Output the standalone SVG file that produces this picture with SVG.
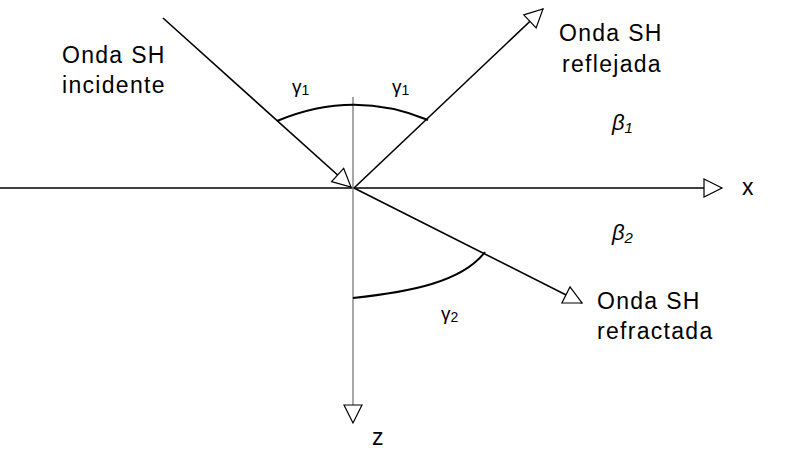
<svg xmlns="http://www.w3.org/2000/svg" width="786" height="454" viewBox="0 0 786 454">
<style>
.ray{stroke:#000;stroke-width:1.6;fill:none}
.axis{stroke:#000;stroke-width:1.4;fill:none}
.zaxis{stroke:#808080;stroke-width:1.4;fill:none}
.arc{stroke:#000;stroke-width:2;fill:none}
.lbl{font-family:"Liberation Sans",Arial,sans-serif;font-size:23px;fill:#000;letter-spacing:1.3px}
.gam{font-family:"Liberation Sans",Arial,sans-serif;font-size:19px;fill:#000}
.beta{font-family:"Liberation Sans",Arial,sans-serif;font-style:italic;font-size:22px;fill:#000}
</style>
<defs>
<marker id="open" markerUnits="userSpaceOnUse" markerWidth="20" markerHeight="20" refX="18" refY="9" orient="auto" overflow="visible">
<path d="M0,0 L18,9 L0,18 Z" fill="#fff" stroke="#000" stroke-width="1.2"/>
</marker>
</defs>
<g id="connectors">
<line class="axis" x1="0" y1="188" x2="722" y2="188" marker-end="url(#open)"/>
<line class="zaxis" x1="353" y1="97" x2="353" y2="423" marker-end="url(#open)"/>
<line id="incident" class="ray" x1="163" y1="18" x2="351" y2="187" marker-end="url(#open)"/>
<line id="reflected" class="ray" x1="354" y1="188" x2="543" y2="9" marker-end="url(#open)"/>
<line id="refracted" class="ray" x1="354" y1="188" x2="582" y2="303" marker-end="url(#open)"/>
<path id="arc1" class="arc" d="M277,121 Q353,89 428,120"/>
<path id="arc2" class="arc" d="M353,298 C410,292 462,282 485,252"/>
</g>
<g id="label-incidente">
<text class="lbl" x="62" y="63">Onda SH</text>
<text class="lbl" x="62" y="93">incidente</text>
</g>
<g id="label-reflejada">
<text class="lbl" x="559" y="41">Onda SH</text>
<text class="lbl" x="562" y="72">reflejada</text>
</g>
<g id="label-refractada">
<text class="lbl" x="597" y="309">Onda SH</text>
<text class="lbl" x="597" y="339">refractada</text>
</g>
<g id="gamma1-left"><text class="gam" x="292" y="93">γ<tspan font-size="14" dy="2">1</tspan></text></g>
<g id="gamma1-right"><text class="gam" x="392" y="93">γ<tspan font-size="14" dy="2">1</tspan></text></g>
<g id="gamma2"><text class="gam" x="441" y="320">γ<tspan font-size="14" dy="2">2</tspan></text></g>
<g id="beta1"><text class="beta" x="612" y="130">β<tspan font-size="15" dy="3">1</tspan></text></g>
<g id="beta2"><text class="beta" x="612" y="240">β<tspan font-size="15" dy="3">2</tspan></text></g>
<g id="axis-labels">
<text class="lbl" x="742" y="195">x</text>
<text class="lbl" x="372" y="445">z</text>
</g>
</svg>
